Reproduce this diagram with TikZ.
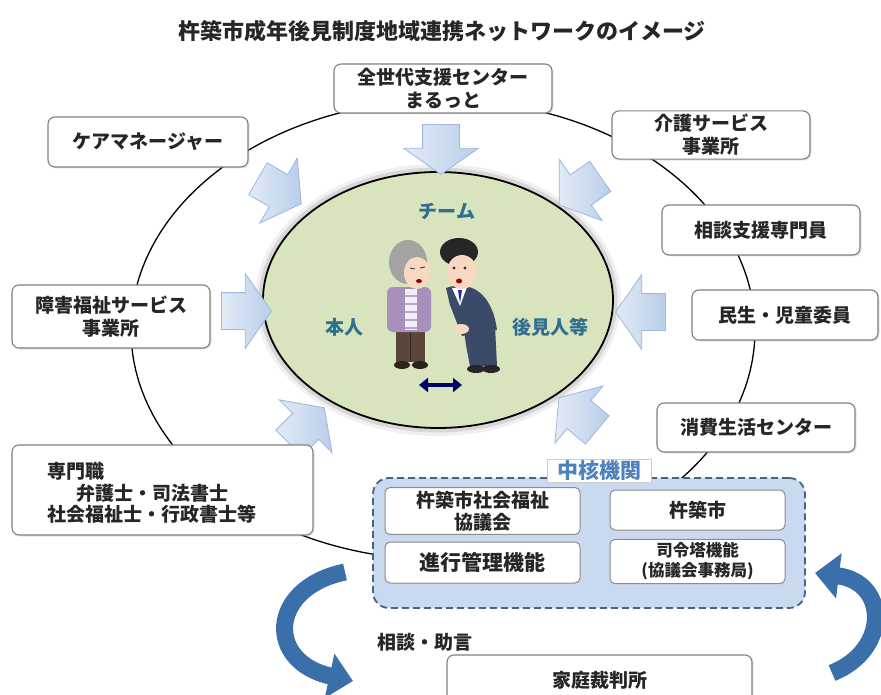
\documentclass[tikz,border=0pt]{standalone}
\usepackage{fontspec}
\setmainfont{Noto Sans CJK JP}
\usetikzlibrary{shapes, shapes.arrows, arrows.meta, positioning, shadows}

\definecolor{teamgreen}{HTML}{D7E4BD}
\definecolor{arrowlight}{HTML}{B9CEEA}
\definecolor{arrowpale}{HTML}{E2EBF6}
\definecolor{arrowedge}{HTML}{9DB8DC}
\definecolor{corefill}{HTML}{C9DAF0}
\definecolor{coredash}{HTML}{4A6384}
\definecolor{labelblue}{HTML}{4F81BD}
\definecolor{bendblue}{HTML}{3B6FAA}
\definecolor{teamtext}{HTML}{2F6F8F}
\definecolor{boxtext}{HTML}{262626}
\definecolor{suit}{HTML}{3B4A68}
\definecolor{cardigan}{HTML}{A88FBC}
\definecolor{pants}{HTML}{5B473A}
\definecolor{skin}{HTML}{F8D8C2}
\definecolor{hair}{HTML}{A3A3A3}

\begin{document}
\begin{tikzpicture}[x=1pt, y=-1pt,
    member/.style={draw=black!50, line width=1.1, fill=white, rounded corners=7,
        align=center, text=boxtext, font=\bfseries\fontsize{19}{23}\selectfont,
        drop shadow={opacity=0.2, shadow xshift=1.5pt, shadow yshift=-1.5pt}},
    unit/.style={draw=black!45, line width=1, fill=white, rounded corners=5,
        align=center, text=boxtext, font=\bfseries\fontsize{19}{22}\selectfont},
    pointer/.style={single arrow, draw=arrowedge, line width=0.8,
        left color=arrowpale, right color=arrowlight,
        minimum height=50, single arrow head extend=19,
        single arrow tip angle=110, inner sep=0},
    bendarrow/.style={draw=bendblue, line width=17,
        -{Triangle[length=24pt, width=44pt]}},
    teamword/.style={text=teamtext, font=\bfseries\fontsize{19}{22}\selectfont}]

    \useasboundingbox (0,0) rectangle (881,695);
    \fill[white] (0,0) rectangle (881,695);

    \node[font=\bfseries\fontsize{22}{25}\selectfont, text=boxtext] (title) at (442,31)
        {杵築市成年後見制度地域連携ネットワークのイメージ};

    % ring linking the members
    \draw[line width=1.3] (443,330) ellipse [x radius=312, y radius=230];

    % team in the middle
    \draw[black, opacity=0.06, line width=12] (438,300) ellipse [x radius=177, y radius=130];
    \draw[black, opacity=0.10, line width=5] (438,300) ellipse [x radius=177, y radius=130];
    \node[ellipse, draw, line width=1.8, fill=teamgreen, minimum width=350,
        minimum height=256] (team) at (438,300) {};

    \node[teamword] (teamlabel) at (447,211) {チーム};
    \node[teamword] (person) at (344,327) {本人};
    \node[teamword] (guardian) at (550,327) {後見人等};

    % person
    \fill[pants] (396,322) rectangle (425,362);
    \draw[pants!60!black] (410.5,332) -- (410.5,362);
    \fill[pants!50!black] (402,365) ellipse [x radius=8, y radius=4];
    \fill[pants!50!black] (420,365) ellipse [x radius=8, y radius=4];
    \fill[cardigan, rounded corners=6] (387,287) rectangle (431,332);
    \fill[white!85!cardigan] (405,289) rectangle (417,330);
    \foreach \yy in {296,304,...,328}
        \draw[cardigan!80, line width=1.5] (405,\yy) -- (417,\yy);
    \fill[hair] (408,262) ellipse [x radius=19, y radius=22];
    \fill[skin] (417,273) ellipse [x radius=13, y radius=16];
    \draw[black!70, line width=1] (410,268) -- (415,269) (420,268) -- (425,267);
    \fill[red!60!black] (419,281) ellipse [x radius=3, y radius=2];

    % guardian
    \fill[suit] (464,330) -- (495,326) -- (497,366) -- (470,366) -- (466,345) -- cycle;
    \fill[black!85] (476,369) ellipse [x radius=9, y radius=4];
    \fill[black!85] (491,369) ellipse [x radius=9, y radius=4];
    \fill[suit] (446,288) .. controls (470,280) and (492,292) .. (497,330)
        -- (462,336) -- (450,305) -- cycle;
    \fill[white] (452,288) -- (467,287) -- (460,306) -- cycle;
    \fill[suit!60!blue] (458,290) -- (462,290) -- (460,303) -- cycle;
    \fill[skin] (461,329) ellipse [x radius=8, y radius=5];
    \fill[black!85] (459,252) ellipse [x radius=19, y radius=14];
    \fill[skin] (462,272) ellipse [x radius=15, y radius=17];
    \fill[black!80] (454,268) circle (1.6) (465,268) circle (1.6);
    \fill[red!60!black] (459,281) ellipse [x radius=3, y radius=2.5];

    \coordinate (pairleft) at (419,385);
    \coordinate (pairright) at (462,385);
    \draw[{Triangle[length=9pt, width=14pt]}-{Triangle[length=9pt, width=14pt]},
        draw=blue!40!black, line width=4] (pairleft) -- (pairright);

    % arrows pointing at the team (the strut sets the shaft width)
    \node[pointer, rotate=-90] (arrowtop) at (441,143) {\rule{0pt}{36pt}};
    \node[pointer, rotate=-30] (arrowul) at (274,188) {\rule{0pt}{36pt}};
    \node[pointer, rotate=-145] (arrowur) at (585,187) {\rule{0pt}{36pt}};
    \node[pointer] (arrowleft) at (240,311) {\rule{0pt}{36pt}};
    \node[pointer, rotate=180] (arrowright) at (647,312) {\rule{0pt}{36pt}};
    \node[pointer, rotate=45] (arrowll) at (302,430) {\rule{0pt}{36pt}};
    \node[pointer, rotate=140] (arrowlr) at (583,418) {\rule{0pt}{36pt}};

    % members on the ring
    \node[member, minimum width=218, minimum height=49] (marutto) at (443,88.5)
        {全世代支援センター\\まるっと};
    \node[member, minimum width=200, minimum height=50] (caremgr) at (148,142)
        {ケアマネージャー};
    \node[member, minimum width=198, minimum height=48] (kaigo) at (711,135)
        {介護サービス\\事業所};
    \node[member, minimum width=198, minimum height=50] (soudan) at (761,230)
        {相談支援専門員};
    \node[member, minimum width=198, minimum height=63] (shougai) at (111,316.5)
        {障害福祉サービス\\事業所};
    \node[member, minimum width=186, minimum height=50] (minsei) at (785,315)
        {民生・児童委員};
    \node[member, minimum width=198, minimum height=49] (shouhi) at (756,427.5)
        {消費生活センター};
    \node[member, minimum width=301, minimum height=90] (senmon) at (162.5,490) {};
    \node[align=center, text=boxtext, font=\bfseries\fontsize{19}{21.5}\selectfont]
        (senmontext) at (152,493)
        {\makebox[209pt][l]{専門職}\\弁護士・司法書士\\社会福祉士・行政書士等};

    % core body
    \node[draw=coredash, dashed, dash pattern=on 7pt off 4pt, line width=1.8,
        fill=corefill, rounded corners=16, minimum width=432, minimum height=130]
        (core) at (589,543) {};
    \node[fill=white, draw=black!20, text=labelblue, inner sep=1.5,
        font=\bfseries\fontsize{21}{24}\selectfont, minimum width=104, minimum height=22]
        (corelabel) at (599.5,471) {中核機関};
    \node[unit, minimum width=195, minimum height=42] (shakyo) at (482.5,511)
        {杵築市社会福祉\\協議会};
    \node[unit, minimum width=175, minimum height=40] (city) at (697.5,510)
        {杵築市};
    \node[unit, minimum width=195, minimum height=41, font=\bfseries\fontsize{21}{24}\selectfont]
        (shinko) at (482.5,562.5) {進行管理機能};
    \node[unit, minimum width=175, minimum height=43, font=\bfseries\fontsize{16.5}{20}\selectfont]
        (shireito) at (697.5,561.5) {司令塔機能\\(協議会事務局)};

    % court
    \node[font=\bfseries\fontsize{19}{22}\selectfont, text=boxtext] (advice) at (425,642)
        {相談・助言};
    \node[member, minimum width=305, minimum height=50] (court) at (599.5,680)
        {家庭裁判所};

    \coordinate (lefttail) at (345,572);
    \coordinate (lefthead) at (353,681);
    \coordinate (righttail) at (832,673);
    \coordinate (righthead) at (815,573);
    \draw[bendarrow] (lefttail) .. controls (268,588) and (266,662) .. (lefthead);
    \draw[bendarrow] (righttail) .. controls (890,650) and (888,582) .. (righthead);
\end{tikzpicture}
\end{document}
